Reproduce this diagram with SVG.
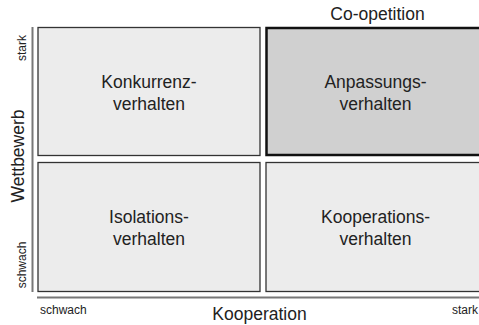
<svg xmlns="http://www.w3.org/2000/svg" width="479" height="325" viewBox="0 0 479 325">
<style>
text{font-family:"Liberation Sans",Arial,sans-serif;fill:#222;text-anchor:middle}
.lbl{font-size:17.5px}
.sm{font-size:12px}
.box{fill:#ececec;stroke:#333;stroke-width:1.3}
.hi{fill:#d0d0d0;stroke:#111;stroke-width:2.5}
.axis{stroke:#777;stroke-width:2;fill:none}
</style>
<rect width="479" height="325" fill="#fff"/>
<g id="axes">
<line class="axis" x1="32.5" y1="27" x2="32.5" y2="292"/>
<line class="axis" x1="37" y1="297.5" x2="480" y2="297.5"/>
</g>
<g id="konkurrenz">
<rect class="box" x="38" y="27.5" width="222" height="128"/>
<text class="lbl" x="149" y="88">Konkurrenz-</text>
<text class="lbl" x="149" y="110">verhalten</text>
</g>
<g id="anpassung">
<rect class="hi" x="266.5" y="28" width="220" height="127"/>
<text class="lbl" x="375.5" y="88">Anpassungs-</text>
<text class="lbl" x="375.5" y="110">verhalten</text>
</g>
<g id="isolation">
<rect class="box" x="38" y="162.5" width="222" height="129"/>
<text class="lbl" x="149" y="223">Isolations-</text>
<text class="lbl" x="149" y="245">verhalten</text>
</g>
<g id="kooperation">
<rect class="box" x="266" y="162.5" width="220" height="129"/>
<text class="lbl" x="375.5" y="223">Kooperations-</text>
<text class="lbl" x="375.5" y="245">verhalten</text>
</g>
<g id="labels">
<text class="lbl" x="377.5" y="20">Co-opetition</text>
<text class="lbl" x="259.5" y="320">Kooperation</text>
<text class="sm" x="40" y="314" style="text-anchor:start">schwach</text>
<text class="sm" x="478" y="314" style="text-anchor:end">stark</text>
<text class="lbl" transform="translate(24,156) rotate(-90)">Wettbewerb</text>
<text class="sm" transform="translate(26,48) rotate(-90)">stark</text>
<text class="sm" transform="translate(26,265) rotate(-90)">schwach</text>
</g>
</svg>
